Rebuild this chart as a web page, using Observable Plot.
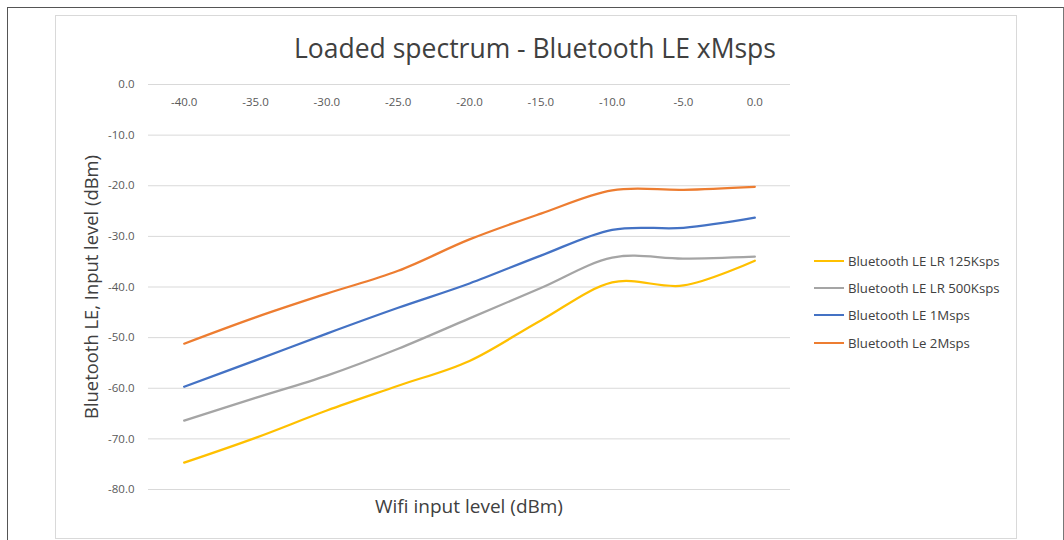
<!DOCTYPE html>
<html>
<head>
<meta charset="utf-8">
<script src="https://cdn.jsdelivr.net/npm/d3@7"></script>
<script src="https://cdn.jsdelivr.net/npm/@observablehq/plot@0.6"></script>
<style>
  html, body { margin: 0; padding: 0; background: #fff; }
  #wrap { position: relative; width: 1064px; height: 540px; overflow: hidden; font-family: "Open Sans", sans-serif; }
  #outer { position: absolute; left: 7px; top: 7px; width: 1055px; height: 540px; border-left: 1px solid #555; border-top: 1px solid #555; border-right: 1px solid #777; }
  #inner { position: absolute; left: 55px; top: 15px; width: 960px; height: 522px; border: 1px solid #d9d9d9; }
  #chart { position: absolute; left: 0; top: 0; }
  .title { position: absolute; left: 535px; top: 48px; transform: translate(-50%, -50%); white-space: nowrap; font-size: 26.5px; color: #404040; }
  .ytitle { position: absolute; left: 90px; top: 287px; transform: translate(-50%, -50%) rotate(-90deg); white-space: nowrap; font-size: 18.4px; color: #404040; }
  .xtitle { position: absolute; left: 469px; top: 506px; transform: translate(-50%, -50%); white-space: nowrap; font-size: 19px; color: #404040; }
  .legend { position: absolute; left: 814px; top: 247px; font-size: 13.2px; color: #404040; }
  .legend .row { display: flex; align-items: center; height: 27.3px; white-space: nowrap; }
  .legend .sw { width: 30px; height: 2px; margin-right: 4px; }
</style>
</head>
<body>
<div id="wrap">
  <div id="outer"></div>
  <div id="inner"></div>
  <div id="chart"></div>
  <div class="title">Loaded spectrum - Bluetooth LE xMsps</div>
  <div class="ytitle">Bluetooth LE, Input level (dBm)</div>
  <div class="xtitle">Wifi input level (dBm)</div>
  <div class="legend" id="legend"></div>
</div>
<script>
// Wifi input level (dBm) categories
const wifiLevels = [-40, -35, -30, -25, -20, -15, -10, -5, 0];
// Series values (Bluetooth LE input level, dBm)
const lr125 = [-74.7, -69.8, -64.4, -59.5, -54.6, -46.6, -39.1, -39.7, -34.8];
const lr500 = [-66.4, -61.9, -57.5, -52.2, -46.2, -40.2, -34.2, -34.4, -34.0];
const le1M  = [-59.7, -54.5, -49.2, -44.1, -39.3, -33.8, -28.7, -28.3, -26.3];
const le2M  = [-51.2, -46.0, -41.3, -36.8, -30.6, -25.5, -20.9, -20.8, -20.2];
const seriesNames = ["Bluetooth LE LR 125Ksps", "Bluetooth LE LR 500Ksps", "Bluetooth LE 1Msps", "Bluetooth Le 2Msps"];
const seriesColors = ["#FFC000", "#A5A5A5", "#4472C4", "#ED7D31"];
const yTicks = [0, -10, -20, -30, -40, -50, -60, -70, -80];
const xTicks = [-40, -35, -30, -25, -20, -15, -10, -5, 0];

const seriesValues = [lr125, lr500, le1M, le2M];
const data = [];
seriesValues.forEach((vals, si) => {
  vals.forEach((v, i) => data.push({ series: seriesNames[si], x: wifiLevels[i], y: v }));
});

const fmt = d => d.toFixed(1);

const plot = Plot.plot({
  width: 1064,
  height: 540,
  marginLeft: 148,
  marginRight: 274,
  marginTop: 84,
  marginBottom: 51,
  style: { fontFamily: "Open Sans, sans-serif", fontSize: "11.5px", color: "#595959", background: "transparent" },
  x: { domain: [-42.5, 2.5], axis: null },
  y: { domain: [-80, 0], axis: null },
  color: { domain: seriesNames, range: seriesColors },
  marks: [
    Plot.ruleY(yTicks, { stroke: "#d9d9d9", strokeWidth: 1 }),
    Plot.axisY(yTicks, { tickSize: 0, tickPadding: 14, tickFormat: fmt, label: null, fill: "#595959", fontSize: 11.5 }),
    Plot.text(xTicks, { x: d => d, y: 0, text: d => fmt(d), dy: 18, fill: "#595959", fontSize: 11.5 }),
    Plot.line(data, { x: "x", y: "y", z: "series", stroke: "series", strokeWidth: 2.25, curve: "cardinal", tension: 0 })
  ]
});
document.getElementById("chart").appendChild(plot);

const legend = document.getElementById("legend");
seriesNames.forEach((name, i) => {
  const row = document.createElement("div");
  row.className = "row";
  const sw = document.createElement("span");
  sw.className = "sw";
  sw.style.background = seriesColors[i];
  const t = document.createElement("span");
  t.textContent = name;
  row.appendChild(sw);
  row.appendChild(t);
  legend.appendChild(row);
});
</script>
</body>
</html>
